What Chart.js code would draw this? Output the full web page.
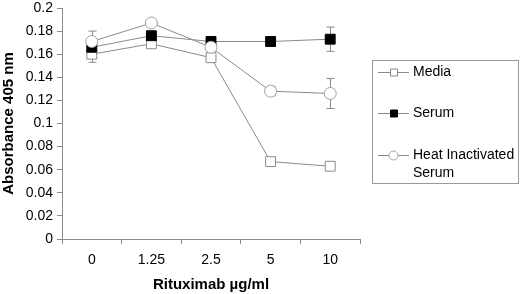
<!DOCTYPE html>
<html>
<head>
<meta charset="utf-8">
<script src="https://cdn.jsdelivr.net/npm/chart.js@4.4.0/dist/chart.umd.min.js"></script>
<style>
  html, body { margin: 0; padding: 0; background: #fff; }
  #wrap { width: 520px; height: 294px; }
</style>
</head>
<body>
<div id="wrap"><canvas id="myChart" width="520" height="294"></canvas></div>
<script>
// data
const doses = ['0', '1.25', '2.5', '5', '10'];
const media = [0.160, 0.169, 0.157, 0.067, 0.063];
const mediaErr = [0.007, 0.003, 0.003, 0.002, 0.002];
const serum = [0.166, 0.176, 0.171, 0.171, 0.173];
const serumErr = [0.003, 0.003, 0.002, 0.002, 0.0105];
const heat = [0.171, 0.187, 0.166, 0.128, 0.126];
const heatErr = [0.009, 0.003, 0.003, 0.004, 0.013];
const yTicks = [0, 0.02, 0.04, 0.06, 0.08, 0.1, 0.12, 0.14, 0.16, 0.18, 0.2];

const grey = '#8a8a8a';
const font = 'Liberation Sans, Arial, sans-serif';

// error bars, drawn under the markers
const errorBars = {
  id: 'errorBars',
  beforeDatasetsDraw(chart) {
    const ctx = chart.ctx;
    const y = chart.scales.y;
    ctx.save();
    ctx.strokeStyle = grey;
    ctx.lineWidth = 1;
    chart.data.datasets.forEach(function(ds, i) {
      const meta = chart.getDatasetMeta(i);
      meta.data.forEach(function(pt, j) {
        const e = ds.err[j];
        const x = Math.round(pt.x) + 0.5;
        const top = y.getPixelForValue(ds.data[j] + e);
        const bot = y.getPixelForValue(ds.data[j] - e);
        ctx.beginPath();
        ctx.moveTo(x, top); ctx.lineTo(x, bot);
        ctx.moveTo(x - 4, top); ctx.lineTo(x + 4, top);
        ctx.moveTo(x - 4, bot); ctx.lineTo(x + 4, bot);
        ctx.stroke();
      });
    });
    ctx.restore();
  }
};

// boxed legend on the right
const boxLegend = {
  id: 'boxLegend',
  afterDraw(chart) {
    const ctx = chart.ctx;
    ctx.save();
    ctx.strokeStyle = '#9a9a9a';
    ctx.lineWidth = 1;
    ctx.strokeRect(372.5, 60.5, 146, 123);
    ctx.font = '14px ' + font;
    ctx.fillStyle = '#000';
    ctx.textBaseline = 'middle';
    const rows = [
      { y: 72, lines: ['Media'] },
      { y: 113, lines: ['Serum'] },
      { y: 155, lines: ['Heat Inactivated', 'Serum'] }
    ];
    chart.data.datasets.forEach(function(ds, i) {
      const r = rows[i];
      ctx.strokeStyle = grey;
      ctx.beginPath();
      ctx.moveTo(378, r.y + 0.5); ctx.lineTo(409, r.y + 0.5);
      ctx.stroke();
      ctx.fillStyle = ds.pointBackgroundColor;
      ctx.strokeStyle = ds.pointBorderColor;
      ctx.beginPath();
      if (ds.pointStyle === 'circle') {
        ctx.arc(393.5, r.y + 0.5, 4.5, 0, Math.PI * 2);
      } else {
        ctx.rect(390.5, r.y - 3, 7, 7);
      }
      ctx.fill();
      ctx.stroke();
      ctx.fillStyle = '#000';
      r.lines.forEach(function(t, k) {
        ctx.fillText(t, 413, r.y + k * 18);
      });
    });
    ctx.restore();
  }
};

new Chart(document.getElementById('myChart'), {
  type: 'line',
  data: {
    labels: doses,
    datasets: [
      {
        label: 'Media', data: media, err: mediaErr, order: 2,
        borderColor: grey, borderWidth: 1,
        pointStyle: 'rect', pointRadius: 7, pointBackgroundColor: '#fff', pointBorderColor: grey, pointBorderWidth: 1
      },
      {
        label: 'Serum', data: serum, err: serumErr, order: 1,
        borderColor: grey, borderWidth: 1,
        pointStyle: 'rect', pointRadius: 7, pointBackgroundColor: '#000', pointBorderColor: '#000', pointBorderWidth: 1
      },
      {
        label: 'Heat Inactivated Serum', data: heat, err: heatErr, order: 0,
        borderColor: grey, borderWidth: 1,
        pointStyle: 'circle', pointRadius: 6, pointBackgroundColor: '#fff', pointBorderColor: '#a0a0a0', pointBorderWidth: 1
      }
    ]
  },
  options: {
    responsive: false,
    animation: false,
    layout: { padding: { left: 0, right: 160, top: 0, bottom: 0 } },
    plugins: { legend: { display: false }, tooltip: { enabled: false } },
    elements: { line: { tension: 0 } },
    scales: {
      x: {
        offset: true,
        afterFit: function(s) { s.height = 55; },
        border: { color: grey },
        grid: { drawOnChartArea: false, drawTicks: true, tickLength: 5, color: grey, offset: true },
        ticks: { color: '#000', font: { family: font, size: 14 }, padding: 8 },
        title: { display: true, text: 'Rituximab µg/ml', color: '#000', font: { family: font, size: 15, weight: 'bold' }, padding: { top: 0, bottom: 0 } }
      },
      y: {
        min: 0, max: 0.2,
        afterFit: function(s) { s.width = 62; s.paddingTop = 2; s.paddingBottom = 0; },
        afterBuildTicks: function(s) { s.ticks = yTicks.map(function(v) { return { value: v }; }); },
        border: { color: grey },
        grid: { drawOnChartArea: false, drawTicks: true, tickLength: 5, color: grey },
        ticks: {
          color: '#000', font: { family: font, size: 14 }, padding: 4,
          callback: function(v) { return String(Number(v.toFixed(2))); }
        },
        title: { display: true, text: 'Absorbance 405 nm', color: '#000', font: { family: font, size: 15, weight: 'bold' }, padding: { top: 0, bottom: 0 } }
      }
    }
  },
  plugins: [errorBars, boxLegend]
});
</script>
</body>
</html>
